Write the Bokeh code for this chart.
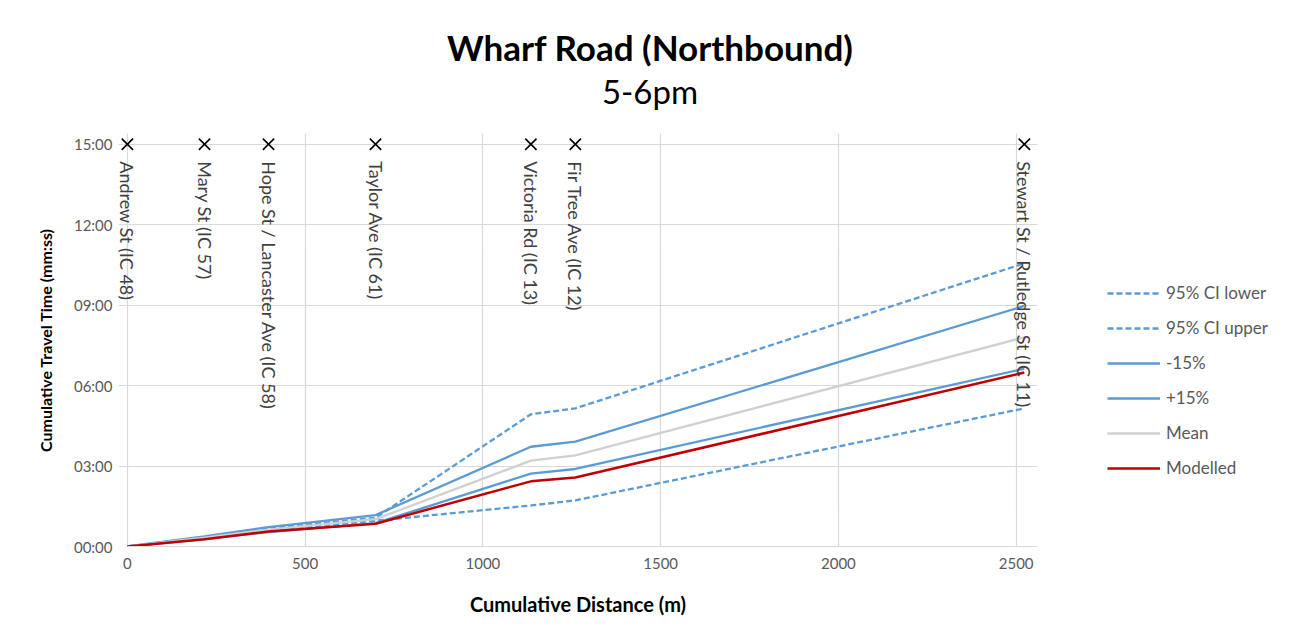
from bokeh.plotting import figure
from bokeh.layouts import row, column
from bokeh.models import Range1d, FixedTicker, Legend, LegendItem, Div
from bokeh.core.properties import value
from bokeh.embed import file_html
from bokeh.resources import INLINE

# ---- data (cumulative distance in m, cumulative time in minutes) ----
distance = [0, 217, 397, 698, 1135, 1260, 2523]
intersections = [
    "Andrew St (IC 48)",
    "Mary St (IC 57)",
    "Hope St / Lancaster Ave (IC 58)",
    "Taylor Ave (IC 61)",
    "Victoria Rd (IC 13)",
    "Fir Tree Ave (IC 12)",
    "Stewart St / Rutledge St (IC 11)",
]
ci_lower = [0, 0.30, 0.58, 0.96, 1.53, 1.72, 5.15]
ci_upper = [0, 0.36, 0.68, 1.07, 4.93, 5.15, 10.56]
minus15 = [0, 0.28, 0.54, 0.87, 2.72, 2.89, 6.63]
plus15 = [0, 0.38, 0.72, 1.17, 3.72, 3.91, 8.97]
mean = [0, 0.33, 0.63, 1.02, 3.20, 3.40, 7.80]
modelled = [0, 0.27, 0.56, 0.85, 2.43, 2.57, 6.49]
marker_time = [15] * len(distance)

series_names = ["95% CI lower", "95% CI upper", "-15%", "+15%", "Mean", "Modelled"]
x_ticks = [0, 500, 1000, 1500, 2000, 2500]
y_ticks = [0, 3, 6, 9, 12, 15]
y_tick_labels = ["00:00", "03:00", "06:00", "09:00", "12:00", "15:00"]
title_text = "Wharf Road (Northbound)"
subtitle_text = "5-6pm"

FONT = "Lato"
BLUE = "#5B9BD5"
MEAN_C = "#D0D0D0"
RED = "#C00000"
GREY_TXT = "#595959"
styles = [
    dict(line_color=BLUE, line_width=2.3, line_dash="6 3"),
    dict(line_color=BLUE, line_width=2.3, line_dash="6 3"),
    dict(line_color=BLUE, line_width=2.3),
    dict(line_color=BLUE, line_width=2.3),
    dict(line_color=MEAN_C, line_width=2.3),
    dict(line_color=RED, line_width=2.5),
]
series = [ci_lower, ci_upper, minus15, plus15, mean, modelled]

# ---- header with title and subtitle ----
header = Div(width=1292, height=133, styles={"margin": "0", "padding": "0"}, text=(
    '<div style="position:relative;width:1292px;height:133px;">'
    '<div style="position:absolute;left:4px;top:26px;width:1292px;height:42px;line-height:42px;'
    'text-align:center;font-family:Lato;font-weight:bold;font-size:35px;color:#000;">'
    + title_text + '</div>'
    '<div style="position:absolute;left:4px;top:71px;width:1292px;height:40px;line-height:40px;'
    'text-align:center;font-family:Lato;font-weight:normal;font-size:33px;color:#000;">'
    + subtitle_text + '</div></div>'))

p = figure(width=1037, height=504, output_backend="svg", toolbar_location=None,
           x_range=Range1d(-25, 2560), y_range=Range1d(0, 15.4),
           min_border_left=118, min_border_right=0,
           min_border_top=0, min_border_bottom=91)
p.outline_line_color = None
p.background_fill_color = "white"
p.border_fill_color = "white"

# grid
p.xgrid.ticker = FixedTicker(ticks=x_ticks)
p.ygrid.ticker = FixedTicker(ticks=y_ticks)
p.xgrid.grid_line_color = "#D9D9D9"
p.ygrid.grid_line_color = "#D9D9D9"
p.xgrid.grid_line_width = 1.2
p.ygrid.grid_line_width = 1.2

# axes
p.xaxis.ticker = FixedTicker(ticks=x_ticks)
p.yaxis.ticker = FixedTicker(ticks=y_ticks)
p.yaxis.major_label_overrides = {t: l for t, l in zip(y_ticks, y_tick_labels)}
for ax in (p.xaxis[0], p.yaxis[0]):
    ax.major_tick_line_color = None
    ax.minor_tick_line_color = None
    ax.major_label_text_font = FONT
    ax.major_label_text_font_size = "15px"
    ax.major_label_text_color = GREY_TXT
    ax.axis_label_text_font = FONT
    ax.axis_label_text_font_style = "bold"
    ax.axis_label_text_color = "#000000"
p.xaxis.axis_label_text_font_size = "20px"
p.yaxis.axis_label_text_font_size = "16px"
p.xaxis.axis_line_color = "#D9D9D9"
p.xaxis.bounds = (0, 2560)
p.yaxis.axis_line_color = None
p.xaxis.axis_label = "Cumulative Distance (m)"
p.yaxis.axis_label = "Cumulative Travel Time (mm:ss)"
p.xaxis.major_label_standoff = 5
p.yaxis.major_label_standoff = 0
p.xaxis.axis_label_standoff = 20
p.yaxis.axis_label_standoff = 16

# series
for vals, st in zip(series, styles):
    p.line(distance, vals, **st)

# intersection markers and labels
p.scatter(distance, marker_time, marker="x", size=16, line_color="black", line_width=1.6)
p.text(distance, marker_time, text=intersections, angle=-1.5708,
       text_align="left", text_baseline="middle", y_offset=17,
       text_font=value(FONT), text_font_size="18px", text_color="#404040")

# legend strip to the right of the plot; its copies of the series lie
# outside its visible ranges, so only the legend shows
q = figure(width=255, height=504, output_backend="svg", toolbar_location=None,
           x_axis_type=None, y_axis_type=None,
           x_range=Range1d(-20, -10), y_range=Range1d(-20, -10),
           min_border_left=0, min_border_right=0, min_border_top=0, min_border_bottom=0)
q.outline_line_color = None
q.grid.visible = False
q.background_fill_color = "white"
q.border_fill_color = "white"
items = []
for name, vals, st in zip(series_names, series, styles):
    r = q.line(distance, vals, **st)
    items.append(LegendItem(label=name, renderers=[r]))
legend = Legend(items=items, location=(70, 68))
legend.border_line_color = None
legend.background_fill_alpha = 0
legend.padding = 0
legend.margin = 0
legend.spacing = 14
legend.glyph_width = 53
legend.glyph_height = 20
legend.label_height = 20
legend.label_standoff = 6
legend.label_text_font = FONT
legend.label_text_font_size = "17px"
legend.label_text_color = GREY_TXT
q.add_layout(legend, "center")

layout = column(header, row(p, q, spacing=0), spacing=0)
open("out.html", "w").write(file_html(layout, INLINE))
